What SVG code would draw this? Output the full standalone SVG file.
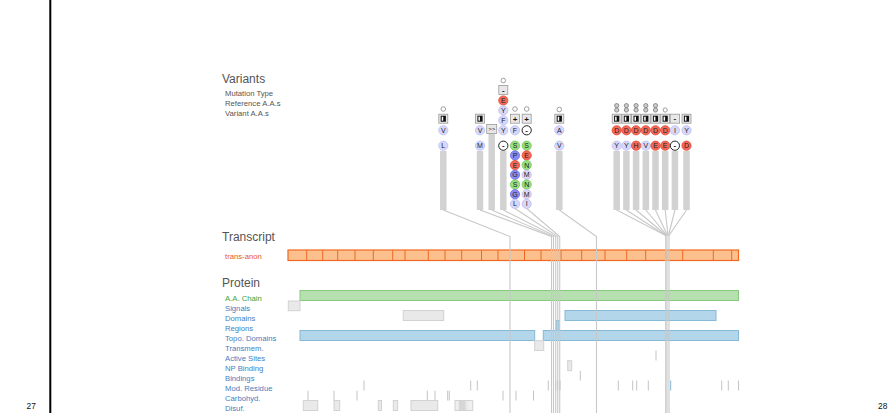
<svg xmlns="http://www.w3.org/2000/svg" width="888" height="413" viewBox="0 0 888 413">
<style>
text{font-family:"Liberation Sans",Arial,sans-serif}
.h{font-size:12px;fill:#555}
.s{font-size:7.7px;fill:#555}
.pl{font-size:7.7px;fill:#3f80c2}
.pg{font-size:7.7px;fill:#3aa53a}
.tr{font-size:7.7px;fill:#e8552a}
.pn{font-size:8.4px;fill:#111}
.lt{font-size:7px;text-anchor:middle;fill:#222}
.mt{font-size:8px;font-weight:bold;text-anchor:middle;fill:#111}
.c{fill:#d8d8fa;stroke:#bcbcf0;stroke-width:.8}
.r{fill:#f46a5a;stroke:#e6432e}
.g{fill:#98e080;stroke:#6dc853}
.b{fill:#8a8af2;stroke:#6c6ce4}
.d{fill:#fff;stroke:#222;stroke-width:1}
.pin{fill:#fff;stroke:#888;stroke-width:.8}
.pin2{fill:#ccc;stroke:#777;stroke-width:.8}
.box{fill:#e8e8e8;stroke:#999;stroke-width:.8}
.stem{stroke:#d2d2d2;stroke-width:6.5;fill:none}
.cn{stroke:#c8c8c8;stroke-width:1.1;fill:none}
.tb{fill:#fcc08e;stroke:#f0691f;stroke-width:1.2}
.tdv{stroke:#f0691f;stroke-width:1}
.gb{fill:#b7e0b1;stroke:#86c97d;stroke-width:1}
.bb{fill:#b4d6ea;stroke:#86b8d8;stroke-width:1}
.yb{fill:#e9e9e9;stroke:#d2d2d2;stroke-width:1}
.tk{stroke:#c4c4c4;stroke-width:1}
</style>
<defs>
<g id="ico">
<rect class="box" x="-4.5" y="-4.5" width="9" height="9"/>
<rect x="-2.6" y="-3" width="5.2" height="6" fill="#111"/>
<rect x="-1.6" y="-2" width="1.5" height="4" fill="#fff"/>
</g>
</defs>
<rect x="0" y="0" width="888" height="413" fill="#fff"/>
<line x1="50.3" y1="0" x2="50.3" y2="413" stroke="#000" stroke-width="2"/>
<text class="pn" x="26.5" y="409">27</text>
<text class="pn" x="878" y="409">28</text>

<g id="labels">
<text class="h" x="222" y="83">Variants</text>
<text class="s" x="225" y="95.5">Mutation Type</text>
<text class="s" x="225" y="105.5">Reference A.A.s</text>
<text class="s" x="225" y="115.5">Variant A.A.s</text>
<text class="h" x="222" y="241">Transcript</text>
<text class="tr" x="225" y="258.5">trans-anon</text>
<text class="h" x="222" y="286.5">Protein</text>
<text class="pg" x="225" y="301">A.A. Chain</text>
<text class="pl" x="225" y="311">Signals</text>
<text class="pl" x="225" y="321">Domains</text>
<text class="pl" x="225" y="331">Regions</text>
<text class="pl" x="225" y="341">Topo. Domains</text>
<text class="pl" x="225" y="351">Transmem.</text>
<text class="pl" x="225" y="361">Active Sites</text>
<text class="pl" x="225" y="371">NP Binding</text>
<text class="pl" x="225" y="381">Bindings</text>
<text class="pl" x="225" y="391">Mod. Residue</text>
<text class="pl" x="225" y="401">Carbohyd.</text>
<text class="pl" x="225" y="411">Disuf.</text>
</g>

<g id="transcript">
<rect class="tb" x="288" y="250" width="450.5" height="10.5"/>
<g class="tdv">
<line x1="306.7" y1="250" x2="306.7" y2="260.5"/><line x1="322.7" y1="250" x2="322.7" y2="260.5"/>
<line x1="337.7" y1="250" x2="337.7" y2="260.5"/><line x1="355" y1="250" x2="355" y2="260.5"/>
<line x1="373.3" y1="250" x2="373.3" y2="260.5"/><line x1="392.7" y1="250" x2="392.7" y2="260.5"/>
<line x1="405" y1="250" x2="405" y2="260.5"/><line x1="428.3" y1="250" x2="428.3" y2="260.5"/>
<line x1="445" y1="250" x2="445" y2="260.5"/><line x1="461.7" y1="250" x2="461.7" y2="260.5"/>
<line x1="481.5" y1="250" x2="481.5" y2="260.5"/><line x1="498" y1="250" x2="498" y2="260.5"/>
<line x1="524.5" y1="250" x2="524.5" y2="260.5"/><line x1="541" y1="250" x2="541" y2="260.5"/>
<line x1="561" y1="250" x2="561" y2="260.5"/><line x1="581.7" y1="250" x2="581.7" y2="260.5"/>
<line x1="605" y1="250" x2="605" y2="260.5"/><line x1="626.7" y1="250" x2="626.7" y2="260.5"/>
<line x1="645.7" y1="250" x2="645.7" y2="260.5"/><line x1="665.7" y1="250" x2="665.7" y2="260.5"/>
<line x1="682.7" y1="250" x2="682.7" y2="260.5"/><line x1="713.3" y1="250" x2="713.3" y2="260.5"/>
<line x1="731.7" y1="250" x2="731.7" y2="260.5"/>
</g>
</g>

<g id="protein">
<rect class="gb" x="300" y="290.5" width="438.5" height="10"/>
<rect class="yb" x="288.3" y="301" width="11.7" height="9.7"/>
<rect class="yb" x="403.3" y="310.5" width="40.4" height="10"/>
<rect class="bb" x="565" y="310.5" width="151" height="10"/>
<rect class="bb" x="556" y="320.5" width="3" height="10" />
<rect class="bb" x="300" y="330.5" width="234.7" height="10"/>
<rect class="bb" x="543.3" y="330.5" width="195.2" height="10"/>
<rect class="yb" x="534.7" y="340.7" width="9" height="9.8"/>
<line class="tk" x1="656" y1="350.5" x2="656" y2="360.5"/>
<rect class="yb" x="567.7" y="360.7" width="4" height="10"/>
<line class="tk" x1="580.3" y1="370.7" x2="580.3" y2="380.5"/>
<g class="tk">
<line x1="364" y1="380.5" x2="364" y2="390.5"/><line x1="470.7" y1="380.5" x2="470.7" y2="390.5"/>
<line x1="477.3" y1="380.5" x2="477.3" y2="390.5"/><line x1="548.3" y1="380.5" x2="548.3" y2="390.5"/>
<line x1="555.7" y1="380.5" x2="555.7" y2="390.5"/><line x1="557.7" y1="380.5" x2="557.7" y2="390.5"/>
<line x1="560" y1="380.5" x2="560" y2="390.5"/><line x1="618.3" y1="380.5" x2="618.3" y2="390.5"/>
<line x1="632.7" y1="380.5" x2="632.7" y2="390.5"/><line x1="636.7" y1="380.5" x2="636.7" y2="390.5"/>
<line x1="648.3" y1="380.5" x2="648.3" y2="390.5"/><line x1="721.7" y1="380.5" x2="721.7" y2="390.5"/>
<line x1="728.3" y1="380.5" x2="728.3" y2="390.5"/><line x1="738.5" y1="380.5" x2="738.5" y2="390.5"/>
</g>
<line x1="670.7" y1="380.5" x2="670.7" y2="390.5" stroke="#86b8d8" stroke-width="1"/>
<g class="tk">
<line x1="308" y1="390.7" x2="308" y2="400.5"/><line x1="334" y1="390.7" x2="334" y2="400.5"/>
<line x1="357" y1="390.7" x2="357" y2="400.5"/><line x1="427.3" y1="390.7" x2="427.3" y2="400.5"/>
<line x1="435" y1="390.7" x2="435" y2="400.5"/><line x1="447.7" y1="390.7" x2="447.7" y2="400.5"/>
<line x1="449.3" y1="390.7" x2="449.3" y2="400.5"/><line x1="503" y1="390.7" x2="503" y2="400.5"/>
<line x1="516" y1="390.7" x2="516" y2="400.5"/><line x1="533.5" y1="390.7" x2="533.5" y2="400.5"/>
</g>
<rect class="yb" x="303.3" y="400.5" width="14.4" height="10"/>
<rect class="yb" x="334" y="400.5" width="5.7" height="10"/>
<rect class="yb" x="378.3" y="400.5" width="3.2" height="10"/>
<rect class="yb" x="393.3" y="400.5" width="4.4" height="10"/>
<rect class="yb" x="411" y="400.5" width="26.7" height="10"/>
<rect class="yb" x="455" y="400.5" width="12" height="10" fill-opacity=".75"/>
<rect class="yb" x="459.3" y="400.5" width="13.4" height="10" fill-opacity=".75"/>
<rect x="460" y="401" width="5.5" height="9" fill="#d6d6d6"/>
</g>

<g id="connectors">
<g class="stem">
<line x1="443.3" y1="151" x2="443.3" y2="210"/>
<line x1="480" y1="151" x2="480" y2="210"/>
<line x1="491.7" y1="133.5" x2="491.7" y2="210"/>
<line x1="503.3" y1="151" x2="503.3" y2="210"/>
<line x1="559.3" y1="151" x2="559.3" y2="210"/>
<line x1="616.7" y1="151" x2="616.7" y2="210"/>
<line x1="626.4" y1="151" x2="626.4" y2="210"/>
<line x1="636.1" y1="151" x2="636.1" y2="210"/>
<line x1="645.8" y1="151" x2="645.8" y2="210"/>
<line x1="655.5" y1="151" x2="655.5" y2="210"/>
<line x1="665.2" y1="151" x2="665.2" y2="210"/>
<line x1="674.9" y1="151" x2="674.9" y2="210"/>
<line x1="686.5" y1="151" x2="686.5" y2="210"/>
</g>
<g class="cn">
<polyline points="443.3,210 510,236.5 510,413"/>
<polyline points="480,210 551.5,236.5 551.5,413"/>
<polyline points="491.7,210 553.5,236.5 553.5,413"/>
<polyline points="503.3,210 555.7,236.5 555.7,413"/>
<polyline points="515,208.5 557.7,236.5 557.7,413"/>
<polyline points="526.7,208.5 559.7,236.5 559.7,413"/>
<polyline points="559.3,210 596.5,236.5 596.5,413"/>
<polyline points="616.7,210 665.7,235.5 665.7,413"/>
<polyline points="626.4,210 665.7,235.5"/>
<polyline points="636.1,210 666.5,235.5"/>
<polyline points="645.8,210 667,235.5 667,413"/>
<polyline points="655.5,210 667.5,235.5"/>
<polyline points="665.2,210 668,235.5"/>
<polyline points="674.9,210 668.5,235.5"/>
<polyline points="686.5,210 669,235.5 669,413"/>
</g>
</g>

<g id="v1">
<circle class="pin" cx="443.3" cy="109" r="2.3"/>
<use href="#ico" x="443.3" y="118.7"/>
<circle class="c" cx="443.3" cy="130.3" r="4.6"/><text class="lt" x="443.3" y="132.8">V</text>
<circle class="c" cx="443.3" cy="145.7" r="4.6"/><text class="lt" x="443.3" y="148.2">L</text>
</g>
<g id="v2">
<use href="#ico" x="480" y="118.7"/>
<circle class="c" cx="480" cy="130.3" r="4.6"/><text class="lt" x="480" y="132.8">V</text>
<circle class="c" cx="480" cy="145.7" r="4.6"/><text class="lt" x="480" y="148.2">M</text>
</g>
<g id="v3">
<rect class="box" x="486.7" y="124.5" width="10" height="9"/>
<text class="lt" x="491.7" y="131" style="font-size:6px">&gt;&gt;</text>
</g>
<g id="v4">
<circle class="pin" cx="503.3" cy="80.5" r="2.3"/>
<rect class="box" x="498.8" y="85.5" width="9" height="9"/>
<text class="mt" x="503.3" y="92.5">-</text>
<circle class="c r" cx="503.3" cy="100.5" r="4.6"/><text class="lt" x="503.3" y="103">E</text>
<circle class="c" cx="503.3" cy="110.4" r="4.6"/><text class="lt" x="503.3" y="112.9">Y</text>
<circle class="c" cx="503.3" cy="120.3" r="4.6"/><text class="lt" x="503.3" y="122.8">F</text>
<circle class="c" cx="503.3" cy="130.3" r="4.6"/><text class="lt" x="503.3" y="132.8">Y</text>
<circle class="d" cx="503.3" cy="145.7" r="4.6"/><text class="mt" x="503.3" y="148.3">-</text>
</g>
<g id="v5">
<circle class="pin" cx="515" cy="109" r="2.3"/>
<rect class="box" x="510.5" y="114.2" width="9" height="9"/>
<text class="mt" x="515" y="121.6">+</text>
<circle class="c" cx="515" cy="130.3" r="4.6"/><text class="lt" x="515" y="132.8">F</text>
<circle class="c g" cx="515" cy="145.7" r="4.6"/><text class="lt" x="515" y="148.2">S</text>
<circle class="c b" cx="515" cy="155.4" r="4.6"/><text class="lt" x="515" y="157.9">P</text>
<circle class="c r" cx="515" cy="165.1" r="4.6"/><text class="lt" x="515" y="167.6">E</text>
<circle class="c b" cx="515" cy="174.8" r="4.6"/><text class="lt" x="515" y="177.3">G</text>
<circle class="c g" cx="515" cy="184.5" r="4.6"/><text class="lt" x="515" y="187">S</text>
<circle class="c b" cx="515" cy="194.2" r="4.6"/><text class="lt" x="515" y="196.7">G</text>
<circle class="c" cx="515" cy="203.9" r="4.6"/><text class="lt" x="515" y="206.4">L</text>
</g>
<g id="v6">
<circle class="pin" cx="526.7" cy="109" r="2.3"/>
<rect class="box" x="522.2" y="114.2" width="9" height="9"/>
<text class="mt" x="526.7" y="121.6">+</text>
<circle class="d" cx="526.7" cy="130.3" r="4.6"/><text class="mt" x="526.7" y="132.9">-</text>
<circle class="c g" cx="526.7" cy="145.7" r="4.6"/><text class="lt" x="526.7" y="148.2">S</text>
<circle class="c r" cx="526.7" cy="155.4" r="4.6"/><text class="lt" x="526.7" y="157.9">E</text>
<circle class="c g" cx="526.7" cy="165.1" r="4.6"/><text class="lt" x="526.7" y="167.6">N</text>
<circle class="c" cx="526.7" cy="174.8" r="4.6"/><text class="lt" x="526.7" y="177.3">M</text>
<circle class="c g" cx="526.7" cy="184.5" r="4.6"/><text class="lt" x="526.7" y="187">N</text>
<circle class="c" cx="526.7" cy="194.2" r="4.6"/><text class="lt" x="526.7" y="196.7">M</text>
<circle class="c" cx="526.7" cy="203.9" r="4.6"/><text class="lt" x="526.7" y="206.4">I</text>
</g>
<g id="v7">
<circle class="pin" cx="559.3" cy="109.5" r="2.3"/>
<use href="#ico" x="559.3" y="118.7"/>
<circle class="c" cx="559.3" cy="130.3" r="4.6"/><text class="lt" x="559.3" y="132.8">A</text>
<circle class="c" cx="559.3" cy="145.7" r="4.6"/><text class="lt" x="559.3" y="148.2">V</text>
</g>
<g id="v8">
<circle class="pin2" cx="616.7" cy="105.6" r="2.1"/><circle class="pin2" cx="616.7" cy="110" r="2.1"/>
<use href="#ico" x="616.7" y="118.7"/>
<circle class="c r" cx="616.7" cy="130.3" r="4.6"/><text class="lt" x="616.7" y="132.8">D</text>
<circle class="c" cx="616.7" cy="145.7" r="4.6"/><text class="lt" x="616.7" y="148.2">Y</text>
</g>
<g id="v9">
<circle class="pin2" cx="626.4" cy="105.6" r="2.1"/><circle class="pin2" cx="626.4" cy="110" r="2.1"/>
<use href="#ico" x="626.4" y="118.7"/>
<circle class="c r" cx="626.4" cy="130.3" r="4.6"/><text class="lt" x="626.4" y="132.8">D</text>
<circle class="c" cx="626.4" cy="145.7" r="4.6"/><text class="lt" x="626.4" y="148.2">Y</text>
</g>
<g id="v10">
<circle class="pin2" cx="636.1" cy="105.6" r="2.1"/><circle class="pin2" cx="636.1" cy="110" r="2.1"/>
<use href="#ico" x="636.1" y="118.7"/>
<circle class="c r" cx="636.1" cy="130.3" r="4.6"/><text class="lt" x="636.1" y="132.8">D</text>
<circle class="c r" cx="636.1" cy="145.7" r="4.6"/><text class="lt" x="636.1" y="148.2">H</text>
</g>
<g id="v11">
<circle class="pin2" cx="645.8" cy="105.6" r="2.1"/><circle class="pin2" cx="645.8" cy="110" r="2.1"/>
<use href="#ico" x="645.8" y="118.7"/>
<circle class="c r" cx="645.8" cy="130.3" r="4.6"/><text class="lt" x="645.8" y="132.8">D</text>
<circle class="c" cx="645.8" cy="145.7" r="4.6"/><text class="lt" x="645.8" y="148.2">V</text>
</g>
<g id="v12">
<circle class="pin2" cx="655.5" cy="105.6" r="2.1"/><circle class="pin2" cx="655.5" cy="110" r="2.1"/>
<use href="#ico" x="655.5" y="118.7"/>
<circle class="c r" cx="655.5" cy="130.3" r="4.6"/><text class="lt" x="655.5" y="132.8">D</text>
<circle class="c r" cx="655.5" cy="145.7" r="4.6"/><text class="lt" x="655.5" y="148.2">E</text>
</g>
<g id="v13">
<circle class="pin" cx="665.2" cy="110" r="2.1"/>
<use href="#ico" x="665.2" y="118.7"/>
<circle class="c r" cx="665.2" cy="130.3" r="4.6"/><text class="lt" x="665.2" y="132.8">D</text>
<circle class="c r" cx="665.2" cy="145.7" r="4.6"/><text class="lt" x="665.2" y="148.2">E</text>
</g>
<g id="v14">
<rect class="box" x="670.2" y="114.2" width="9.4" height="9"/>
<text class="mt" x="674.9" y="121.2">-</text>
<circle class="c" cx="674.9" cy="130.3" r="4.6"/><text class="lt" x="674.9" y="132.8">I</text>
<circle class="d" cx="674.9" cy="145.7" r="4.6"/><text class="mt" x="674.9" y="148.3">-</text>
</g>
<g id="v15">
<use href="#ico" x="686.5" y="118.7"/>
<circle class="c" cx="686.5" cy="130.3" r="4.6"/><text class="lt" x="686.5" y="132.8">Y</text>
<circle class="c r" cx="686.5" cy="145.7" r="4.6"/><text class="lt" x="686.5" y="148.2">D</text>
</g>
</svg>
